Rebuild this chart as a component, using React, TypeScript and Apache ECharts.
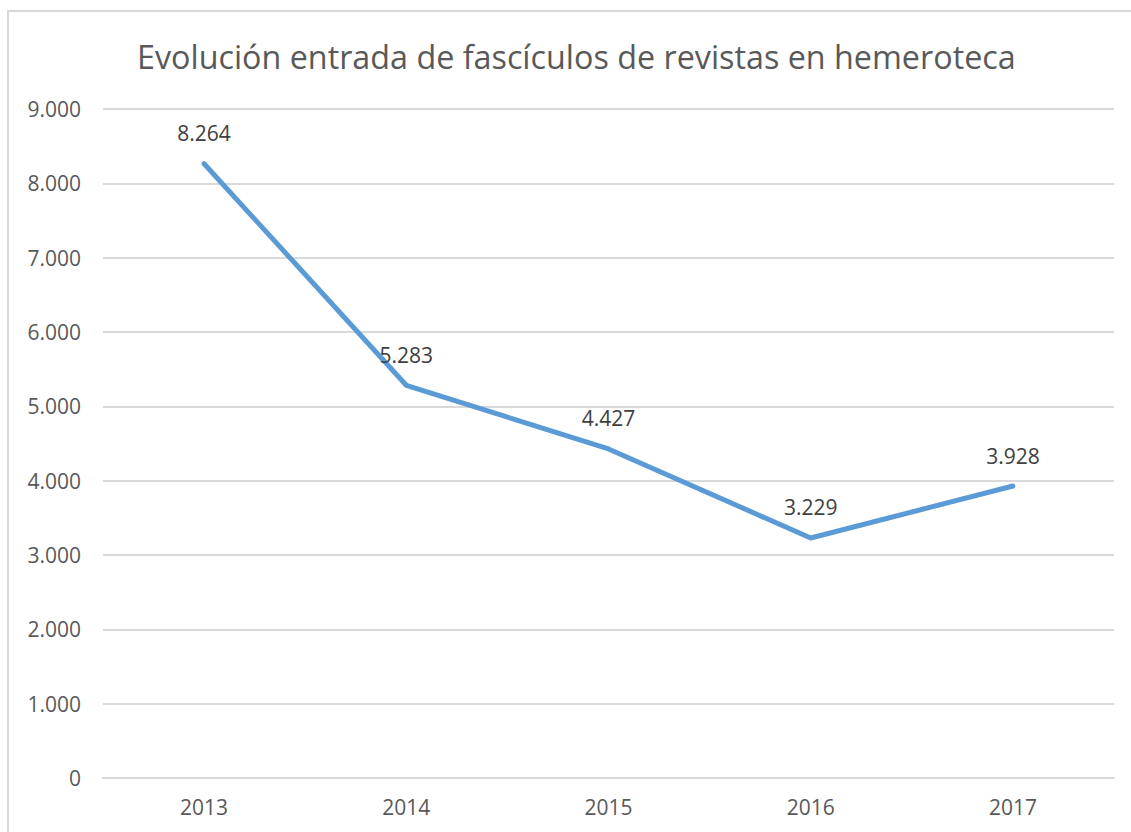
import React, { useEffect, useRef } from "react";
import * as echarts from "echarts";

const title = "Evolución entrada de fascículos de revistas en hemeroteca";
const years = ["2013", "2014", "2015", "2016", "2017"];
const values = [8264, 5283, 4427, 3229, 3928];

const fmt = (v: number) => {
  const s = String(Math.round(v));
  return s.replace(/\B(?=(\d{3})+(?!\d))/g, ".");
};

const FONT = "'Open Sans', 'Noto Sans', sans-serif";

export default function App() {
  const ref = useRef<HTMLDivElement>(null);
  useEffect(() => {
    if (!ref.current) return;
    const chart = echarts.init(ref.current, undefined, { renderer: "svg" });
    chart.setOption({
      animation: false,
      backgroundColor: "#ffffff",
      title: {
        text: title,
        left: 132,
        top: 35,
        textStyle: { fontFamily: FONT, fontSize: 32.3, fontWeight: "normal", color: "#595959" },
      },
      graphic: [
        {
          type: "rect",
          shape: { x: 8, y: 11, width: 1300, height: 1000 },
          style: { fill: "none", stroke: "#d9d9d9", lineWidth: 2 },
          silent: true,
        },
      ],
      grid: { left: 103, right: 17, top: 109, bottom: 54 },
      xAxis: {
        type: "category",
        data: years,
        boundaryGap: true,
        axisLine: { show: true, lineStyle: { color: "#d9d9d9", width: 2 } },
        axisTick: { show: false },
        axisLabel: { fontFamily: FONT, fontSize: 21, color: "#595959", margin: 18 },
      },
      yAxis: {
        type: "value",
        min: 0,
        max: 9000,
        interval: 1000,
        axisLine: { show: false },
        axisTick: { show: false },
        axisLabel: { fontFamily: FONT, fontSize: 21, color: "#595959", margin: 22, formatter: (v: number) => fmt(v) },
        splitLine: { lineStyle: { color: "#d9d9d9", width: 2 } },
      },
      series: [
        {
          type: "line",
          data: values,
          symbol: "circle",
          symbolSize: 4,
          showSymbol: true,
          lineStyle: { color: "#5b9bd5", width: 5, cap: "round", join: "round" },
          itemStyle: { color: "#5b9bd5" },
          label: {
            show: true,
            position: "top",
            distance: 18,
            opacity: 1,
            fontFamily: FONT,
            fontSize: 21,
            color: "#404040",
            formatter: (p: any) => fmt(p.value),
          },
        },
      ],
    });
    return () => chart.dispose();
  }, []);
  return (
    <div
      ref={ref}
      style={{ position: "fixed", left: 0, top: 0, width: 1131, height: 832, background: "#fff" }}
    />
  );
}
